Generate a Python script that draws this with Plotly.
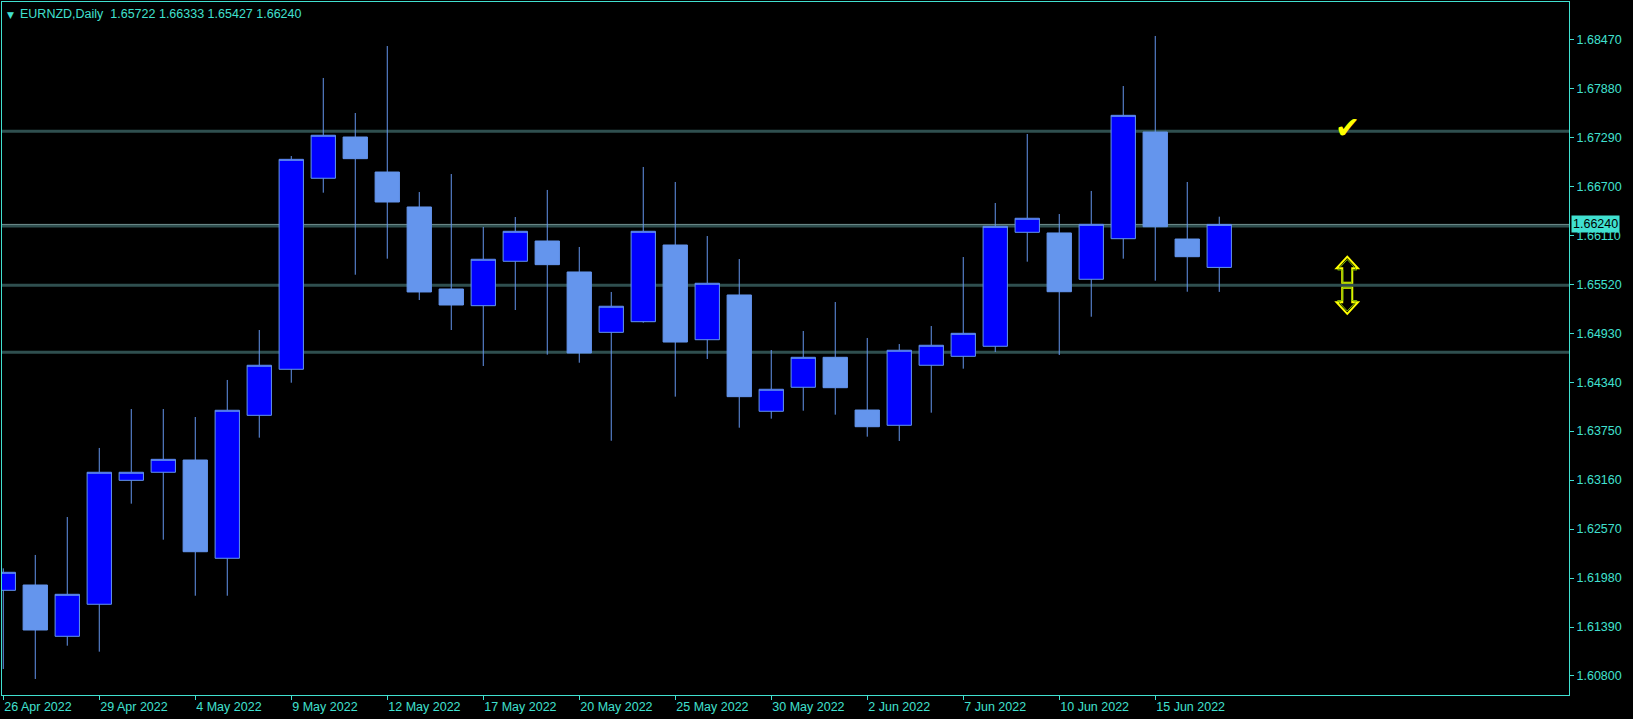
import plotly.graph_objects as go

# ---- data (EURNZD daily) ----
dates = ["26 Apr 2022", "27 Apr 2022", "28 Apr 2022", "29 Apr 2022",
         "2 May 2022", "3 May 2022", "4 May 2022", "5 May 2022", "6 May 2022",
         "9 May 2022", "10 May 2022", "11 May 2022", "12 May 2022", "13 May 2022",
         "16 May 2022", "17 May 2022", "18 May 2022", "19 May 2022", "20 May 2022",
         "23 May 2022", "24 May 2022", "25 May 2022", "26 May 2022", "27 May 2022",
         "30 May 2022", "31 May 2022", "1 Jun 2022", "2 Jun 2022", "3 Jun 2022",
         "6 Jun 2022", "7 Jun 2022", "8 Jun 2022", "9 Jun 2022", "10 Jun 2022",
         "13 Jun 2022", "14 Jun 2022", "15 Jun 2022", "16 Jun 2022", "17 Jun 2022"]
opens = [1.61832, 1.61896, 1.61278, 1.61664, 1.63157, 1.63254, 1.63402, 1.62218, 1.63940,
         1.64495, 1.66796, 1.67293, 1.66871, 1.66450, 1.65462, 1.65261, 1.65796, 1.66040,
         1.65667, 1.64940, 1.65068, 1.65992, 1.64851, 1.65390, 1.63989, 1.64278, 1.64639,
         1.64004, 1.63820, 1.64543, 1.64651, 1.64772, 1.66145, 1.66137, 1.65579, 1.66068,
         1.67353, 1.66064, 1.65722]
highs = [1.62097, 1.62258, 1.62715, 1.63547, 1.64016, 1.64016, 1.63920, 1.64366, 1.64968,
         1.67064, 1.68004, 1.67582, 1.68389, 1.66630, 1.66847, 1.66209, 1.66329, 1.66655,
         1.65968, 1.65426, 1.66932, 1.66751, 1.66100, 1.65823, 1.64727, 1.64956, 1.65305,
         1.64872, 1.64799, 1.65016, 1.65847, 1.66498, 1.67329, 1.66365, 1.66643, 1.67907,
         1.68510, 1.66751, 1.66333]
lows = [1.60884, 1.60764, 1.61165, 1.61093, 1.62876, 1.62442, 1.61767, 1.61767, 1.63671,
        1.64333, 1.66622, 1.65634, 1.65827, 1.65329, 1.64968, 1.64534, 1.65209, 1.64671,
        1.64574, 1.63634, 1.65056, 1.64165, 1.64619, 1.63791, 1.63900, 1.63996, 1.63948,
        1.63683, 1.63631, 1.63972, 1.64502, 1.64703, 1.65791, 1.64667, 1.65128, 1.65827,
        1.65562, 1.65429, 1.65427]
closes = [1.62049, 1.61354, 1.61784, 1.63254, 1.63254, 1.63410, 1.62297, 1.64001, 1.64543,
          1.67024, 1.67314, 1.67032, 1.66510, 1.65426, 1.65269, 1.65820, 1.66157, 1.65755,
          1.64691, 1.65254, 1.66157, 1.64823, 1.65531, 1.64165, 1.64254, 1.64639, 1.64273,
          1.63803, 1.64724, 1.64784, 1.64928, 1.66217, 1.66314, 1.65429, 1.66241, 1.67554,
          1.66212, 1.65851, 1.66240]

y_ticks = [1.60800, 1.61390, 1.61980, 1.62570, 1.63160, 1.63750, 1.64340,
           1.64930, 1.65520, 1.66110, 1.66700, 1.67290, 1.67880, 1.68470]
x_tick_idx = list(range(0, 39, 3))
x_tick_text = [dates[i] for i in x_tick_idx]
h_levels = [1.67362, 1.66221, 1.65508, 1.64699]
bid = closes[-1]
header = "EURNZD,Daily  1.65722 1.66333 1.65427 1.66240"

# chart objects (bar index, price)
check_pos = (42, 1.67408)
arrows_pos = (42, 1.65507)

TURQ = "#40E0D0"
CORN = "#6495ED"
FONT = "Liberation Sans"

idx = list(range(len(dates)))

fig = go.Figure()
fig.add_trace(go.Candlestick(
    x=idx, open=opens, high=highs, low=lows, close=closes,
    increasing=dict(fillcolor="#0000FF", line=dict(color=CORN, width=1)),
    decreasing=dict(fillcolor=CORN, line=dict(color=CORN, width=1)),
    whiskerwidth=0, showlegend=False, hoverinfo="skip",
))

shapes = []
for lv in h_levels:
    shapes.append(dict(type="line", xref="paper", x0=0, x1=1, yref="y", y0=lv, y1=lv,
                       line=dict(color="#2F4F4F", width=3), layer="below"))
shapes.append(dict(type="line", xref="paper", x0=0, x1=1, yref="y", y0=bid, y1=bid,
                   line=dict(color="#6f8f8f", width=1), layer="below"))

# hollow up/down block arrows (pixel-sized icon anchored at a chart point)
def block_arrows(s):
    up = [(0, 28.6), (10.7, 17), (5, 17), (5, 2.6), (-5, 2.6), (-5, 17), (-10.7, 17)]
    dn = [(x, -y) for x, y in up]
    def p(pts):
        return "M " + " L ".join(f"{x * s:.2f},{y * s:.2f}" for x, y in pts) + " Z"
    return p(up) + " " + p(dn)

for col, w, s in (("#FFFF00", 2, 1.0), ("#7FBF00", 1, 0.9)):
    shapes.append(dict(type="path", xref="x", yref="y",
                       xsizemode="pixel", ysizemode="pixel",
                       xanchor=arrows_pos[0], yanchor=arrows_pos[1],
                       path=block_arrows(s), line=dict(color=col, width=w),
                       fillcolor="rgba(0,0,0,0)", layer="above"))

annotations = [
    dict(xref="paper", yref="paper", x=0, y=1, xanchor="left", yanchor="top",
         xshift=3, yshift=-6, text="▼", showarrow=False,
         font=dict(family="DejaVu Sans", size=9, color=TURQ)),
    dict(xref="paper", yref="paper", x=0, y=1, xanchor="left", yanchor="top",
         xshift=16, yshift=-3, text=header, showarrow=False,
         font=dict(family=FONT, size=12.5, color=TURQ)),
    dict(xref="paper", yref="y", x=1, y=bid, xanchor="left", yanchor="middle",
         xshift=2, text="1.66240", showarrow=False, bgcolor=TURQ,
         borderpad=1, font=dict(family=FONT, size=12.5, color="#000000")),
    dict(x=check_pos[0], y=check_pos[1], text="✔", showarrow=False,
         font=dict(family="DejaVu Sans", size=30, color="#FFFF00")),
]

fig.update_layout(
    width=1633, height=719,
    margin=dict(l=2, r=64, t=2, b=24, autoexpand=False),
    paper_bgcolor="#000000", plot_bgcolor="#000000",
    boxgap=0.24, boxgroupgap=0,
    shapes=shapes, annotations=annotations,
    xaxis=dict(range=[-0.04, 48.93], tickmode="array", tickvals=x_tick_idx,
               ticktext=x_tick_text, ticks="outside", ticklen=4, tickcolor=TURQ,
               ticklabelposition="outside right",
               showgrid=False, zeroline=False, showline=True, linecolor=TURQ,
               linewidth=1, mirror=True, rangeslider=dict(visible=False),
               tickfont=dict(family=FONT, size=12.5, color=TURQ), fixedrange=True),
    yaxis=dict(range=[1.605710, 1.689193], side="right", tickmode="array",
               tickvals=y_ticks, ticktext=[f"{v:.5f}" for v in y_ticks],
               ticks="outside", ticklen=4, tickcolor=TURQ,
               showgrid=False, zeroline=False, showline=True, linecolor=TURQ,
               linewidth=1, mirror=True,
               tickfont=dict(family=FONT, size=12.5, color=TURQ), fixedrange=True),
)

fig.write_html("out.html", config={"displayModeBar": False},
               post_script="document.body.style.margin='0';document.body.style.overflow='hidden';")
